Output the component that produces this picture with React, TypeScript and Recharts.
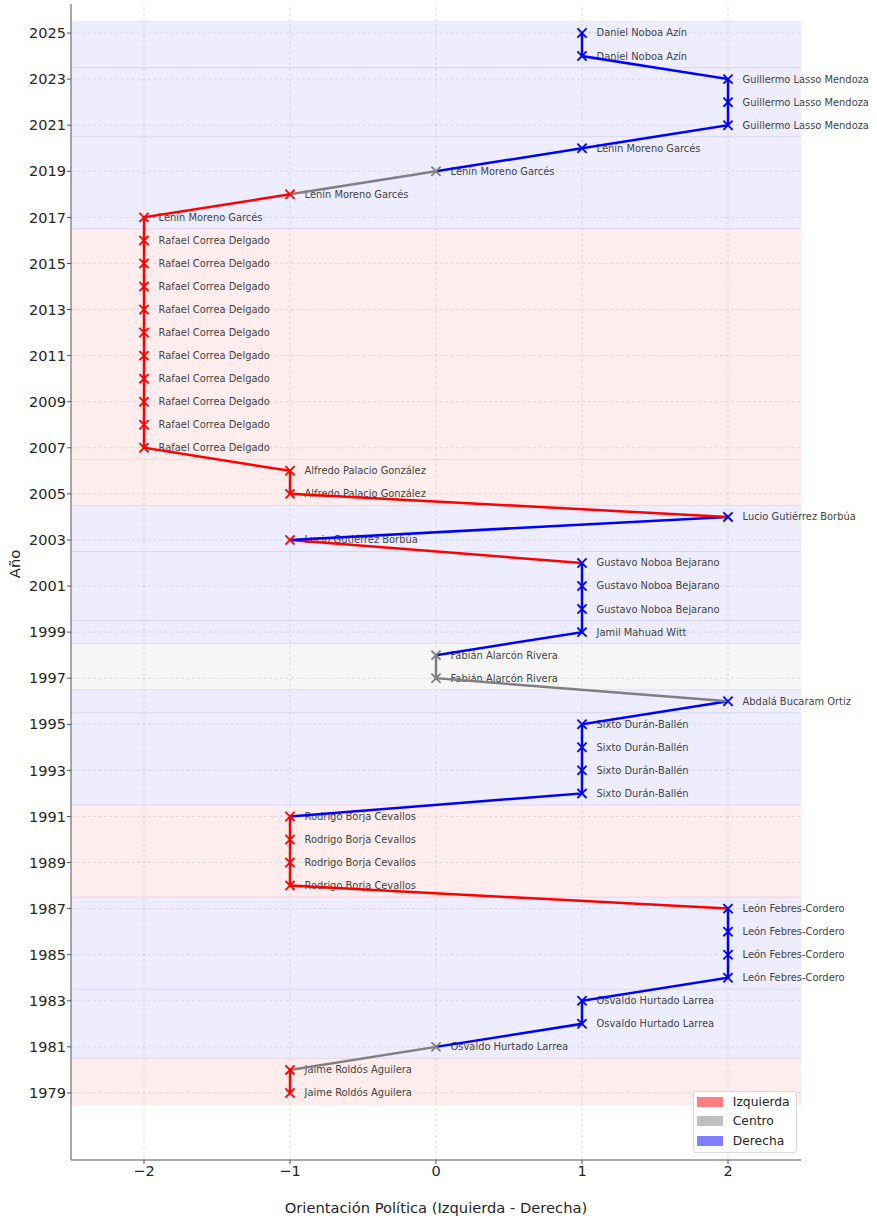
import React from 'react';
import {
  ComposedChart, Scatter, XAxis, YAxis,
  ReferenceArea, ReferenceLine, Legend, Label
} from 'recharts';

// one entry per year, oldest first
const YEARS = [
  1979, 1980, 1981, 1982, 1983, 1984, 1985, 1986, 1987, 1988, 1989, 1990,
  1991, 1992, 1993, 1994, 1995, 1996, 1997, 1998, 1999, 2000, 2001, 2002,
  2003, 2004, 2005, 2006, 2007, 2008, 2009, 2010, 2011, 2012, 2013, 2014,
  2015, 2016, 2017, 2018, 2019, 2020, 2021, 2022, 2023, 2024, 2025,
];
const ORIENTATION = [
  -1, -1, 0, 1, 1, 2, 2, 2, 2, -1, -1, -1,
  -1, 1, 1, 1, 1, 2, 0, 0, 1, 1, 1, 1,
  -1, 2, -1, -1, -2, -2, -2, -2, -2, -2, -2, -2,
  -2, -2, -2, -1, 0, 1, 2, 2, 2, 1, 1,
];
const PRESIDENTS = [
  'Jaime Roldós Aguilera', 'Jaime Roldós Aguilera',
  'Osvaldo Hurtado Larrea', 'Osvaldo Hurtado Larrea', 'Osvaldo Hurtado Larrea',
  'León Febres-Cordero', 'León Febres-Cordero', 'León Febres-Cordero', 'León Febres-Cordero',
  'Rodrigo Borja Cevallos', 'Rodrigo Borja Cevallos', 'Rodrigo Borja Cevallos', 'Rodrigo Borja Cevallos',
  'Sixto Durán-Ballén', 'Sixto Durán-Ballén', 'Sixto Durán-Ballén', 'Sixto Durán-Ballén',
  'Abdalá Bucaram Ortiz',
  'Fabián Alarcón Rivera', 'Fabián Alarcón Rivera',
  'Jamil Mahuad Witt',
  'Gustavo Noboa Bejarano', 'Gustavo Noboa Bejarano', 'Gustavo Noboa Bejarano',
  'Lucio Gutiérrez Borbúa', 'Lucio Gutiérrez Borbúa',
  'Alfredo Palacio González', 'Alfredo Palacio González',
  'Rafael Correa Delgado', 'Rafael Correa Delgado', 'Rafael Correa Delgado', 'Rafael Correa Delgado',
  'Rafael Correa Delgado', 'Rafael Correa Delgado', 'Rafael Correa Delgado', 'Rafael Correa Delgado',
  'Rafael Correa Delgado', 'Rafael Correa Delgado',
  'Lenín Moreno Garcés', 'Lenín Moreno Garcés', 'Lenín Moreno Garcés', 'Lenín Moreno Garcés',
  'Guillermo Lasso Mendoza', 'Guillermo Lasso Mendoza', 'Guillermo Lasso Mendoza',
  'Daniel Noboa Azín', 'Daniel Noboa Azín',
];

// background bands, one per term
const TERM_FROM = [1979, 1981, 1984, 1988, 1992, 1996, 1997, 1999, 2000, 2003, 2005, 2007, 2017, 2021, 2024];
const TERM_TO = [1980, 1983, 1987, 1991, 1995, 1996, 1998, 1999, 2002, 2004, 2006, 2016, 2020, 2023, 2025];
const TERM_SIDE = ['izq', 'der', 'der', 'izq', 'der', 'der', 'centro', 'der', 'der', 'der', 'izq', 'izq', 'der', 'der', 'der'];

const X_TICKS = [-2, -1, 0, 1, 2];
const Y_TICKS = [
  1979, 1981, 1983, 1985, 1987, 1989, 1991, 1993, 1995, 1997, 1999, 2001,
  2003, 2005, 2007, 2009, 2011, 2013, 2015, 2017, 2019, 2021, 2023, 2025,
];

const LEGEND_SIDES = ['izq', 'centro', 'der'];
const LEGEND_NAMES = ['Izquierda', 'Centro', 'Derecha'];

const COLORS: Record<string, string> = { izq: '#ff0000', centro: '#808080', der: '#0000ff' };
const FONT = '"DejaVu Sans", sans-serif';

const sideOf = (v: number) => (v < 0 ? 'izq' : v === 0 ? 'centro' : 'der');

const points = YEARS.map((y, i) => ({
  x: ORIENTATION[i], y, name: PRESIDENTS[i], side: sideOf(ORIENTATION[i]),
}));

// each segment takes the colour of its later year; group consecutive ones
const runs: { side: string; pts: typeof points }[] = [];
for (let i = 1; i < points.length; i++) {
  const side = points[i].side;
  const last = runs[runs.length - 1];
  if (last && last.side === side) last.pts.push(points[i]);
  else runs.push({ side, pts: [points[i - 1], points[i]] });
}

const Cross = (props: any) => {
  const { cx, cy, payload } = props;
  const c = COLORS[payload.side];
  const r = 4.6;
  return (
    <g stroke={c} strokeWidth={1.8}>
      <line x1={cx - r} y1={cy - r} x2={cx + r} y2={cy + r} />
      <line x1={cx - r} y1={cy + r} x2={cx + r} y2={cy - r} />
    </g>
  );
};

const NameLabel = (props: any) => {
  const { cx, cy, payload } = props;
  return (
    <text x={cx + 14.6} y={cy} dy="0.35em" fontSize={9.9} fill="#444444" fontFamily={FONT}>
      {payload.name}
    </text>
  );
};

const Empty = () => <g />;

const fmtX = (v: number) => (v < 0 ? '\u2212' + Math.abs(v) : String(v));

const LegendBox = () => (
  <div style={{
    border: '1px solid #d9d9d9', borderRadius: 3, background: 'rgba(255,255,255,0.85)',
    padding: '0 6px 1.5px 3.4px', fontFamily: FONT, fontSize: 12.3, color: '#262626',
  }}>
    {LEGEND_SIDES.map((s, i) => (
      <div key={s} style={{ height: 19.5, display: 'flex', alignItems: 'center' }}>
        <span style={{
          display: 'inline-block', width: 24, height: 8, marginRight: 9.4,
          background: COLORS[s], opacity: 0.5, border: `1px solid ${COLORS[s]}`,
        }} />
        <span>{LEGEND_NAMES[i]}</span>
      </div>
    ))}
  </div>
);

const GRID = { stroke: '#cfcfcf', strokeDasharray: '3 2.5', strokeWidth: 0.7 };

export default function App() {
  return (
    <div style={{ position: 'absolute', left: 0, top: 0 }}>
      <ComposedChart width={877} height={1219} margin={{ top: 4, right: 76, bottom: 29, left: 11 }}>
        {TERM_FROM.map((f, i) => (
          <ReferenceArea key={`band-${i}`} y1={f - 0.5} y2={TERM_TO[i] + 0.5}
            fill={COLORS[TERM_SIDE[i]]} fillOpacity={0.072} stroke="none" />
        ))}
        {TERM_FROM.map((f, i) => (
          <ReferenceLine key={`edge-a-${i}`} y={f - 0.5} stroke={COLORS[TERM_SIDE[i]]} strokeOpacity={0.05} strokeWidth={1} />
        ))}
        {TERM_TO.map((t, i) => (
          <ReferenceLine key={`edge-b-${i}`} y={t + 0.5} stroke={COLORS[TERM_SIDE[i]]} strokeOpacity={0.05} strokeWidth={1} />
        ))}
        {X_TICKS.map((t) => <ReferenceLine key={`gx-${t}`} x={t} {...GRID} />)}
        {Y_TICKS.map((t) => <ReferenceLine key={`gy-${t}`} y={t} {...GRID} />)}
        <XAxis type="number" dataKey="x" domain={[-2.5, 2.5]} ticks={X_TICKS}
          tickFormatter={fmtX} height={30} tickSize={4} tickMargin={2}
          stroke="#555" tick={{ fill: '#262626', fontSize: 14.5, fontFamily: FONT }}>
          <Label content={() => (
            <text x={436} y={1208} dy="0.35em" textAnchor="middle" fontSize={14.7} fill="#262626" fontFamily={FONT}>
              Orientación Política (Izquierda - Derecha)
            </text>
          )} />
        </XAxis>
        <YAxis type="number" dataKey="y" domain={[1976.09, 2026.26]} ticks={Y_TICKS}
          width={60} tickSize={4} tickMargin={1} interval={0}
          stroke="#555" tick={{ fill: '#262626', fontSize: 14.5, fontFamily: FONT }}>
          <Label content={() => (
            <text x={15} y={564} dy="0.35em" textAnchor="middle" fontSize={14.7} fill="#262626"
              fontFamily={FONT} transform="rotate(-90 15 564)">
              Año
            </text>
          )} />
        </YAxis>
        <Scatter data={points} shape={NameLabel} isAnimationActive={false} legendType="none" />
        {runs.map((r, i) => (
          <Scatter key={`run-${i}`} data={r.pts} shape={Empty} isAnimationActive={false} legendType="none"
            fill="none" line={{ stroke: COLORS[r.side], strokeWidth: 2.5 }} lineJointType="linear" />
        ))}
        <Scatter data={points} shape={Cross} isAnimationActive={false} legendType="none" />
        <Legend layout="vertical" align="center" verticalAlign="middle"
          wrapperStyle={{ left: 693, top: 1091, width: 'auto' }} content={() => <LegendBox />} />
      </ComposedChart>
    </div>
  );
}
